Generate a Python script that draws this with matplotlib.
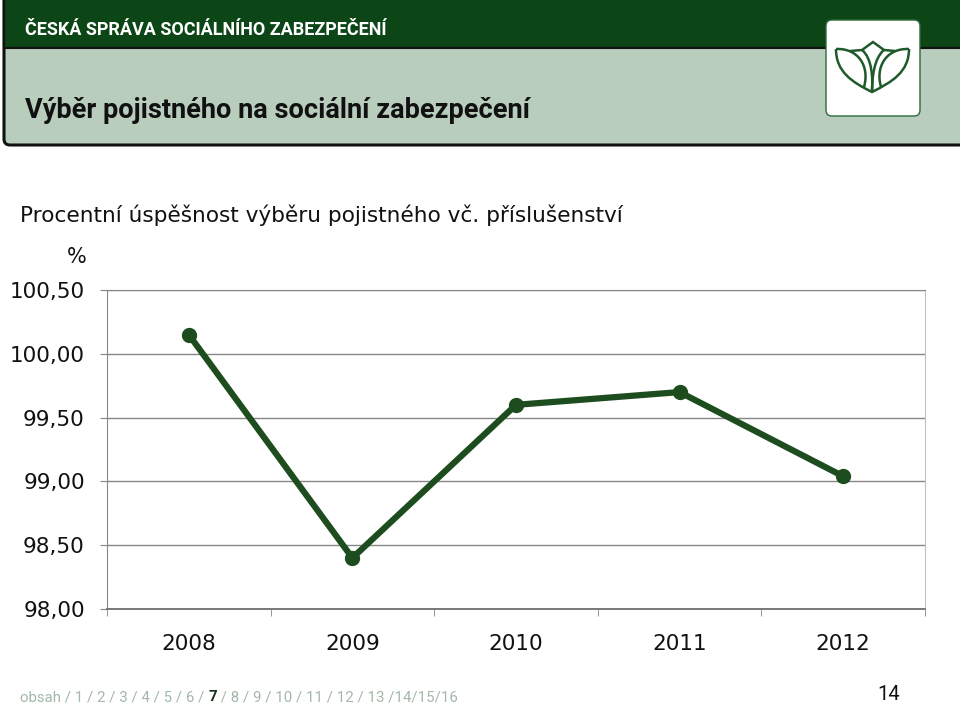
import matplotlib
matplotlib.use('Agg')
import matplotlib.pyplot as plt
from matplotlib.patches import FancyBboxPatch, Rectangle, PathPatch
from matplotlib.path import Path
from matplotlib.ticker import FuncFormatter

# data
years = ['2008', '2009', '2010', '2011', '2012']
rate = [100.15, 98.40, 99.60, 99.70, 99.04]
y_ticks = [98.0, 98.5, 99.0, 99.5, 100.0, 100.5]
nav_before = 'obsah / 1 / 2 / 3 / 4 / 5 / 6 / '
nav_current = '7'
nav_after = ' / 8 / 9 / 10 / 11 / 12 / 13 /14/15/16'

W, H = 960, 709
fig = plt.figure(figsize=(9.6, 7.09), dpi=100)

# page background in pixel coords (y downwards)
bg = fig.add_axes([0, 0, 1, 1])
bg.set_xlim(0, W)
bg.set_ylim(H, 0)
bg.axis('off')

bg.add_patch(FancyBboxPatch((4, -20), 990, 165, boxstyle='round,pad=0,rounding_size=6',
                            fc='#b9cdbd', ec='#111111', lw=2.2))
bg.add_patch(Rectangle((4, -20), 990, 68, fc='#0c4617', ec='#111111', lw=1.5))

bg.text(25, 30, 'ČESKÁ SPRÁVA SOCIÁLNÍHO ZABEZPEČENÍ', color='white', fontsize=13,
        fontweight='bold', family='Roboto', va='center', ha='left')
bg.text(25, 111, 'Výběr pojistného na sociální zabezpečení', color='#111111', fontsize=19.5,
        fontweight='bold', family='Roboto', va='center', ha='left')

# logo
bg.add_patch(FancyBboxPatch((826, 20), 94, 96, boxstyle='round,pad=0,rounding_size=6',
                            fc='white', ec='#2d6a3a', lw=1))
lc = '#1f5a2b'
C, L, M = Path.CURVE4, Path.LINETO, Path.MOVETO
shapes = [
    ([(836, 49), (836, 72), (852, 82), (872, 92), (892, 82), (909, 72), (909, 49)],
     [M, C, C, C, C, C, C]),
    ([(850, 51), (862, 50), (873, 42), (884, 50), (895, 51)], [M, L, L, L, L]),
    ([(836, 49), (858, 48), (870, 66), (864, 87)], [M, C, C, C]),
    ([(909, 49), (887, 48), (875, 66), (881, 87)], [M, C, C, C]),
    ([(862, 50), (872, 58), (873, 78), (872, 92)], [M, C, C, C]),
    ([(884, 50), (874, 58), (872, 78), (872, 92)], [M, C, C, C]),
]
for verts, codes in shapes:
    bg.add_patch(PathPatch(Path(verts, codes), fc='none', ec=lc, lw=1.8))

bg.text(20, 215, 'Procentní úspěšnost výběru pojistného vč. příslušenství', fontsize=15.6,
        color='#111111', va='center', ha='left')
bg.text(77, 257, '%', fontsize=15, color='#111111', va='center', ha='center')

# footer navigation
rend = fig.canvas.get_renderer()
x0 = 20
for part, col, wt in [(nav_before, '#a3b8a8', 'normal'), (nav_current, '#15301a', 'bold'),
                      (nav_after, '#a3b8a8', 'normal')]:
    t = bg.text(x0, 697, part, fontsize=10.8, color=col, fontweight=wt, family='Roboto',
                va='center', ha='left')
    x0 += t.get_window_extent(rend).width
bg.text(889, 694, '14', fontsize=14.5, color='#111111', family='Roboto', va='center', ha='center')

# chart
ax = fig.add_axes([107 / W, 1 - 609 / H, (925 - 107) / W, (609 - 290) / H])
xs = [i + 0.5 for i in range(len(years))]
ax.plot(xs, rate, color='#1d4d1f', lw=4.5, marker='o', ms=10, zorder=3)
ax.set_xlim(0, len(years))
ax.set_ylim(y_ticks[0], y_ticks[-1])
ax.set_yticks(y_ticks)
ax.yaxis.set_major_formatter(FuncFormatter(lambda v, p: f'{v:.2f}'.replace('.', ',')))
ax.set_xticks(xs)
ax.set_xticklabels(years)
ax.set_xticks(range(len(years) + 1), minor=True)
ax.yaxis.grid(True, color='#868686', lw=1)
ax.set_axisbelow(True)
ax.tick_params(axis='x', which='major', length=0, pad=18, labelsize=15.5, labelcolor='#111111')
ax.tick_params(axis='x', which='minor', length=5, color='#868686', direction='out')
ax.tick_params(axis='y', length=5, color='#868686', pad=11, labelsize=15.5, labelcolor='#111111')
ax.spines['left'].set_color('#868686')
ax.spines['bottom'].set_color('#707070')
ax.spines['bottom'].set_linewidth(1.3)
ax.spines['right'].set_color('#c0c0c0')
ax.spines['top'].set_color('#868686')

fig.savefig('out.png', dpi=100)
